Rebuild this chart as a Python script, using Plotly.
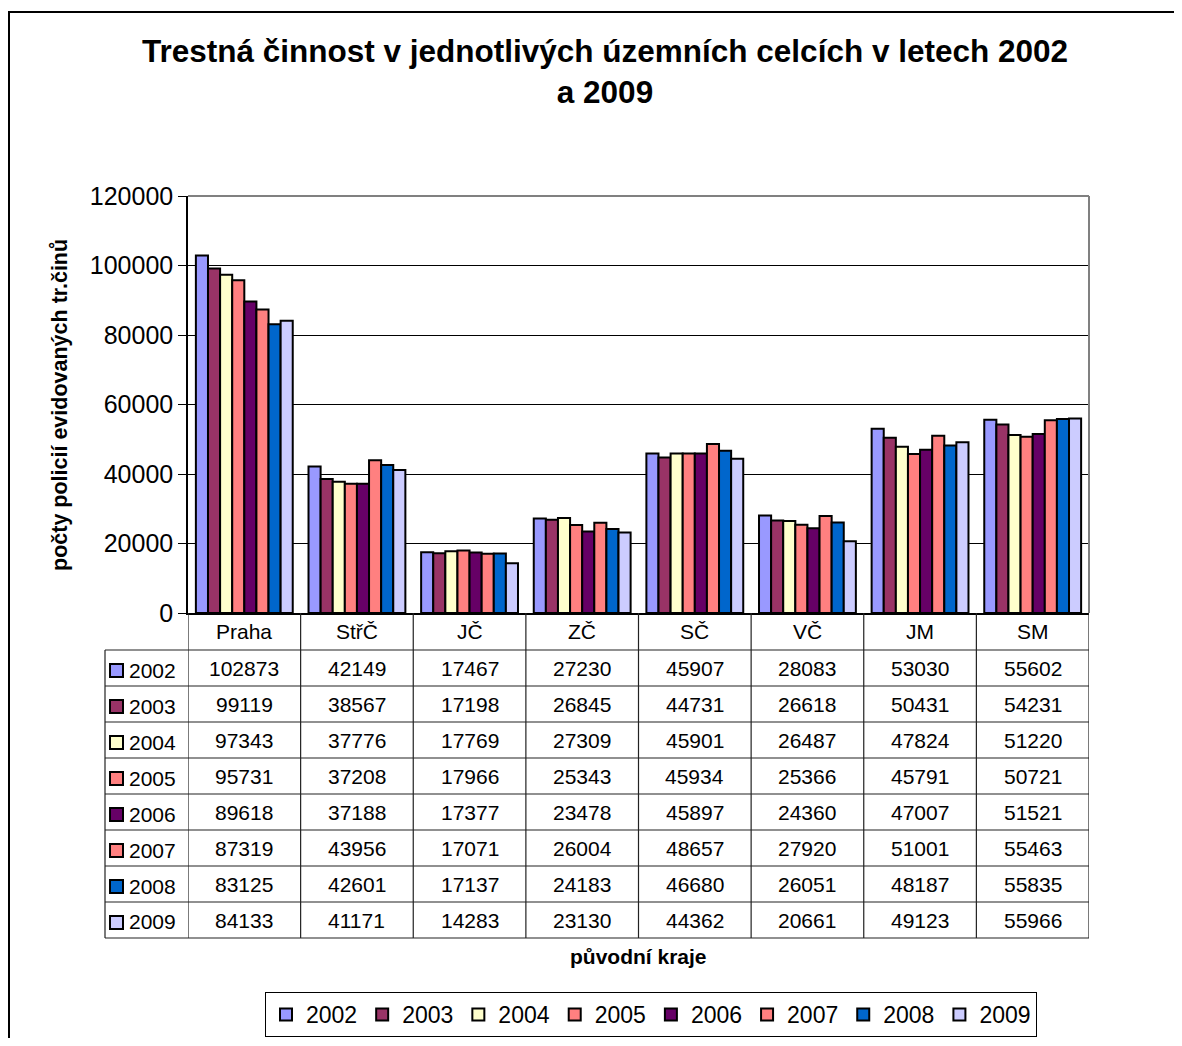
import plotly.graph_objects as go

# ---------------- data ----------------
regions = ["Praha", "StřČ", "JČ", "ZČ", "SČ", "VČ", "JM", "SM"]
years = ["2002", "2003", "2004", "2005", "2006", "2007", "2008", "2009"]
v2002 = [102873, 42149, 17467, 27230, 45907, 28083, 53030, 55602]
v2003 = [99119, 38567, 17198, 26845, 44731, 26618, 50431, 54231]
v2004 = [97343, 37776, 17769, 27309, 45901, 26487, 47824, 51220]
v2005 = [95731, 37208, 17966, 25343, 45934, 25366, 45791, 50721]
v2006 = [89618, 37188, 17377, 23478, 45897, 24360, 47007, 51521]
v2007 = [87319, 43956, 17071, 26004, 48657, 27920, 51001, 55463]
v2008 = [83125, 42601, 17137, 24183, 46680, 26051, 48187, 55835]
v2009 = [84133, 41171, 14283, 23130, 44362, 20661, 49123, 55966]
series = [v2002, v2003, v2004, v2005, v2006, v2007, v2008, v2009]
colors = ["#9999FF", "#993366", "#FFFFCC", "#FF8080",
          "#660066", "#FF8080", "#0066CC", "#CCCCFF"]
y_ticks = [0, 20000, 40000, 60000, 80000, 100000, 120000]

title_text = "<b>Trestná činnost v jednotlivých územních celcích v letech 2002<br>a 2009</b>"
y_title = "<b>počty policií evidovaných tr.činů</b>"
x_title = "<b>původní kraje</b>"

FONT = "Liberation Sans, Arial, sans-serif"

# ------------- layout geometry (page pixels) -------------
PAGE_W, PAGE_H = 1182, 1046
BODY = 8                                   # default HTML body margin
W, H = PAGE_W - 2 * BODY, PAGE_H - 2 * BODY
L, R, T, B = 188, 1089, 196, 613          # plot area in page coordinates
PW, PH = R - L, B - T
TABLE_LEFT = 105
HEADER_BOTTOM = 650
ROW_H = 36


def px(x):
    return (x - L) / PW


def py(y):
    return (B - y) / PH


def cy(y):
    """page y -> container fraction"""
    return 1 - (y - BODY) / H


fig = go.Figure()
for yr, vals, col in zip(years, series, colors):
    fig.add_trace(go.Bar(
        name=yr, x=regions, y=vals,
        marker=dict(color=col, line=dict(color="black", width=2)),
        hoverinfo="x+y+name",
    ))

shapes = []
annotations = []

# outer chart frame
shapes.append(dict(type="rect", xref="paper", yref="paper",
                   x0=px(9), x1=px(1300), y0=py(12), y1=py(1200),
                   line=dict(color="black", width=2), layer="below"))
# plot area top / right border (gray)
shapes.append(dict(type="line", xref="paper", yref="paper",
                   x0=0, x1=1, y0=1, y1=1, line=dict(color="#808080", width=2)))
shapes.append(dict(type="line", xref="paper", yref="paper",
                   x0=1, x1=1, y0=0, y1=1, line=dict(color="#808080", width=2)))

# ---------- data table ----------
n_rows = len(years)
table_bottom = HEADER_BOTTOM + n_rows * ROW_H
line_style = dict(color="#222222", width=1.2)
for i in range(len(regions) + 1):
    shapes.append(dict(type="line", xref="x", yref="paper",
                       x0=i - 0.5, x1=i - 0.5, y0=py(B), y1=py(table_bottom),
                       line=line_style))
shapes.append(dict(type="line", xref="paper", yref="paper",
                   x0=px(TABLE_LEFT), x1=px(TABLE_LEFT),
                   y0=py(HEADER_BOTTOM), y1=py(table_bottom), line=line_style))
for r in range(n_rows + 1):
    yy = HEADER_BOTTOM + r * ROW_H
    shapes.append(dict(type="line", xref="paper", yref="paper",
                       x0=px(TABLE_LEFT), x1=1, y0=py(yy), y1=py(yy),
                       line=line_style))

for reg in regions:
    annotations.append(dict(xref="x", yref="paper", x=reg,
                            y=py((B + HEADER_BOTTOM) / 2), text=reg,
                            showarrow=False, xanchor="center", yanchor="middle",
                            font=dict(family=FONT, size=21, color="black")))
for r, (yr, vals, col) in enumerate(zip(years, series, colors)):
    yc = HEADER_BOTTOM + r * ROW_H + ROW_H / 2
    shapes.append(dict(type="rect", xref="paper", yref="paper",
                       x0=px(110), x1=px(123), y0=py(yc - 4), y1=py(yc + 9),
                       fillcolor=col, line=dict(color="black", width=2)))
    annotations.append(dict(xref="paper", yref="paper", x=px(127), y=py(yc + 2),
                            text=yr, showarrow=False, xanchor="left",
                            yanchor="middle",
                            font=dict(family=FONT, size=21, color="black")))
    for reg, v in zip(regions, vals):
        annotations.append(dict(xref="x", yref="paper", x=reg, y=py(yc),
                                text=str(v), showarrow=False,
                                xanchor="center", yanchor="middle",
                                font=dict(family=FONT, size=21, color="black")))

annotations.append(dict(xref="paper", yref="paper", x=px(60), y=py(405),
                        text=y_title, textangle=-90, showarrow=False,
                        xanchor="center", yanchor="middle",
                        font=dict(family=FONT, size=21.5, color="black")))
annotations.append(dict(xref="paper", yref="paper", x=px(638), y=py(956),
                        text=x_title, showarrow=False,
                        xanchor="center", yanchor="middle",
                        font=dict(family=FONT, size=21, color="black")))

fig.update_layout(
    width=W, height=H,
    margin=dict(l=L - BODY, r=(PAGE_W - BODY) - R, t=T - BODY,
                b=(PAGE_H - BODY) - B, pad=0, autoexpand=False),
    paper_bgcolor="white", plot_bgcolor="white",
    barmode="group", bargap=0.14, bargroupgap=0,
    title=dict(text=title_text, x=(605 - BODY) / W, xanchor="center",
               y=cy(62), yanchor="middle",
               font=dict(family=FONT, size=31.5, color="black")),
    font=dict(family=FONT, color="black"),
    xaxis=dict(showticklabels=False, ticks="", showgrid=False,
               showline=True, linecolor="black", linewidth=1.5,
               range=[-0.5, len(regions) - 0.5]),
    yaxis=dict(range=[0, 120000], tickvals=y_ticks, tickformat="d",
               ticks="outside", ticklen=8, tickcolor="black",
               showline=True, linecolor="black", linewidth=1.5,
               showgrid=True, gridcolor="black", gridwidth=1,
               zeroline=False,
               tickfont=dict(family=FONT, size=25, color="black")),
    legend=dict(orientation="h", x=px(651), xanchor="center",
                yref="container", y=cy(992), yanchor="top",
                bordercolor="black", borderwidth=1, bgcolor="white",
                font=dict(family=FONT, size=23, color="black"),
                itemwidth=30, traceorder="normal"),
    shapes=shapes,
    annotations=annotations,
)

fig.write_html("out.html", config={"displayModeBar": False})
